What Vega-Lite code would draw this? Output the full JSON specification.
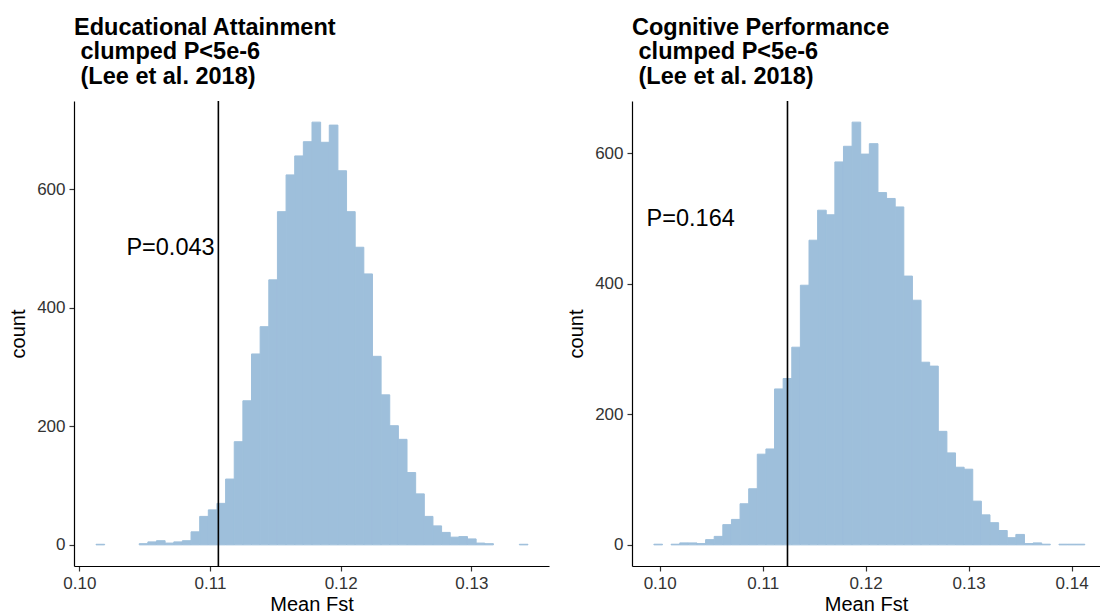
{
 "$schema": "https://vega.github.io/schema/vega-lite/v6.json",
 "background": "white",
 "padding": {"left": 8, "top": 15, "right": 0, "bottom": 0},
 "spacing": 17,
 "config": {
  "font": "Liberation Sans",
  "view": {"stroke": null},
  "axis": {"grid": false, "domainColor": "black", "domainWidth": 1.2, "tickColor": "#333333", "tickWidth": 1.2, "tickSize": 5, "labelFontSize": 17, "labelColor": "#333333", "labelFont": "Liberation Sans", "titleFont": "Liberation Sans", "titleFontSize": 20, "titleFontWeight": "normal", "titleColor": "black", "labelPadding": 4},
  "axisX": {"titlePadding": 3},
  "axisY": {"titlePadding": 8},
  "title": {"font": "Liberation Sans", "fontSize": 23.5, "fontWeight": "bold", "lineHeight": 24.5, "anchor": "start", "frame": "group", "color": "black", "offset": 12}
 },
 "datasets": {
  "ea": [
   {"bin_start": 0.101278, "bin_end": 0.101939, "count": 1},
   {"bin_start": 0.104583, "bin_end": 0.105244, "count": 2},
   {"bin_start": 0.105244, "bin_end": 0.105905, "count": 5},
   {"bin_start": 0.105905, "bin_end": 0.106566, "count": 7},
   {"bin_start": 0.106566, "bin_end": 0.107227, "count": 3},
   {"bin_start": 0.107227, "bin_end": 0.107888, "count": 5},
   {"bin_start": 0.107888, "bin_end": 0.108549, "count": 7},
   {"bin_start": 0.108549, "bin_end": 0.109210, "count": 22},
   {"bin_start": 0.109210, "bin_end": 0.109871, "count": 48},
   {"bin_start": 0.109871, "bin_end": 0.110532, "count": 59},
   {"bin_start": 0.110532, "bin_end": 0.111193, "count": 70},
   {"bin_start": 0.111193, "bin_end": 0.111854, "count": 111},
   {"bin_start": 0.111854, "bin_end": 0.112515, "count": 174},
   {"bin_start": 0.112515, "bin_end": 0.113176, "count": 243},
   {"bin_start": 0.113176, "bin_end": 0.113837, "count": 322},
   {"bin_start": 0.113837, "bin_end": 0.114498, "count": 368},
   {"bin_start": 0.114498, "bin_end": 0.115159, "count": 447},
   {"bin_start": 0.115159, "bin_end": 0.115820, "count": 562},
   {"bin_start": 0.115820, "bin_end": 0.116481, "count": 624},
   {"bin_start": 0.116481, "bin_end": 0.117142, "count": 656},
   {"bin_start": 0.117142, "bin_end": 0.117803, "count": 680},
   {"bin_start": 0.117803, "bin_end": 0.118464, "count": 713},
   {"bin_start": 0.118464, "bin_end": 0.119125, "count": 679},
   {"bin_start": 0.119125, "bin_end": 0.119786, "count": 708},
   {"bin_start": 0.119786, "bin_end": 0.120447, "count": 631},
   {"bin_start": 0.120447, "bin_end": 0.121108, "count": 562},
   {"bin_start": 0.121108, "bin_end": 0.121769, "count": 502},
   {"bin_start": 0.121769, "bin_end": 0.122430, "count": 457},
   {"bin_start": 0.122430, "bin_end": 0.123091, "count": 318},
   {"bin_start": 0.123091, "bin_end": 0.123752, "count": 253},
   {"bin_start": 0.123752, "bin_end": 0.124413, "count": 201},
   {"bin_start": 0.124413, "bin_end": 0.125074, "count": 178},
   {"bin_start": 0.125074, "bin_end": 0.125735, "count": 122},
   {"bin_start": 0.125735, "bin_end": 0.126396, "count": 86},
   {"bin_start": 0.126396, "bin_end": 0.127057, "count": 48},
   {"bin_start": 0.127057, "bin_end": 0.127718, "count": 32},
   {"bin_start": 0.127718, "bin_end": 0.128379, "count": 21},
   {"bin_start": 0.128379, "bin_end": 0.129040, "count": 13},
   {"bin_start": 0.129040, "bin_end": 0.129701, "count": 14},
   {"bin_start": 0.129701, "bin_end": 0.130362, "count": 10},
   {"bin_start": 0.130362, "bin_end": 0.131023, "count": 3},
   {"bin_start": 0.131023, "bin_end": 0.131684, "count": 2},
   {"bin_start": 0.133667, "bin_end": 0.134328, "count": 1}
  ],
  "cp": [
   {"bin_start": 0.099434, "bin_end": 0.100271, "count": 1},
   {"bin_start": 0.101108, "bin_end": 0.101945, "count": 1},
   {"bin_start": 0.101945, "bin_end": 0.102782, "count": 3},
   {"bin_start": 0.102782, "bin_end": 0.103619, "count": 3},
   {"bin_start": 0.103619, "bin_end": 0.104456, "count": 2},
   {"bin_start": 0.104456, "bin_end": 0.105293, "count": 8},
   {"bin_start": 0.105293, "bin_end": 0.106130, "count": 13},
   {"bin_start": 0.106130, "bin_end": 0.106967, "count": 31},
   {"bin_start": 0.106967, "bin_end": 0.107804, "count": 39},
   {"bin_start": 0.107804, "bin_end": 0.108641, "count": 63},
   {"bin_start": 0.108641, "bin_end": 0.109478, "count": 86},
   {"bin_start": 0.109478, "bin_end": 0.110315, "count": 139},
   {"bin_start": 0.110315, "bin_end": 0.111152, "count": 147},
   {"bin_start": 0.111152, "bin_end": 0.111989, "count": 239},
   {"bin_start": 0.111989, "bin_end": 0.112826, "count": 255},
   {"bin_start": 0.112826, "bin_end": 0.113663, "count": 303},
   {"bin_start": 0.113663, "bin_end": 0.114500, "count": 398},
   {"bin_start": 0.114500, "bin_end": 0.115337, "count": 467},
   {"bin_start": 0.115337, "bin_end": 0.116174, "count": 513},
   {"bin_start": 0.116174, "bin_end": 0.117011, "count": 506},
   {"bin_start": 0.117011, "bin_end": 0.117848, "count": 587},
   {"bin_start": 0.117848, "bin_end": 0.118685, "count": 611},
   {"bin_start": 0.118685, "bin_end": 0.119522, "count": 648},
   {"bin_start": 0.119522, "bin_end": 0.120359, "count": 599},
   {"bin_start": 0.120359, "bin_end": 0.121196, "count": 615},
   {"bin_start": 0.121196, "bin_end": 0.122033, "count": 540},
   {"bin_start": 0.122033, "bin_end": 0.122870, "count": 531},
   {"bin_start": 0.122870, "bin_end": 0.123707, "count": 518},
   {"bin_start": 0.123707, "bin_end": 0.124544, "count": 412},
   {"bin_start": 0.124544, "bin_end": 0.125381, "count": 375},
   {"bin_start": 0.125381, "bin_end": 0.126218, "count": 280},
   {"bin_start": 0.126218, "bin_end": 0.127055, "count": 274},
   {"bin_start": 0.127055, "bin_end": 0.127892, "count": 174},
   {"bin_start": 0.127892, "bin_end": 0.128729, "count": 141},
   {"bin_start": 0.128729, "bin_end": 0.129566, "count": 119},
   {"bin_start": 0.129566, "bin_end": 0.130403, "count": 116},
   {"bin_start": 0.130403, "bin_end": 0.131240, "count": 67},
   {"bin_start": 0.131240, "bin_end": 0.132077, "count": 46},
   {"bin_start": 0.132077, "bin_end": 0.132914, "count": 34},
   {"bin_start": 0.132914, "bin_end": 0.133751, "count": 22},
   {"bin_start": 0.133751, "bin_end": 0.134588, "count": 11},
   {"bin_start": 0.134588, "bin_end": 0.135425, "count": 16},
   {"bin_start": 0.135425, "bin_end": 0.136262, "count": 2},
   {"bin_start": 0.136262, "bin_end": 0.137099, "count": 3},
   {"bin_start": 0.137099, "bin_end": 0.137936, "count": 1},
   {"bin_start": 0.138773, "bin_end": 0.139610, "count": 1},
   {"bin_start": 0.139610, "bin_end": 0.140447, "count": 1},
   {"bin_start": 0.140447, "bin_end": 0.141284, "count": 1}
  ],
  "ea_obs": [{"x": 0.11064, "tx": 0.106978, "ty": 500, "label": "P=0.043"}],
  "cp_obs": [{"x": 0.11241, "tx": 0.103013, "ty": 500, "label": "P=0.164"}]
 },
 "hconcat": [
  {
   "width": 475,
   "height": 465,
   "title": {"text": ["Educational Attainment", "\u200b\u00a0clumped P<5e-6", "\u200b\u00a0(Lee et al. 2018)"]},
   "layer": [
    {
     "data": {"name": "ea"},
     "mark": {"type": "bar", "color": "#9ebfdb", "stroke": "#9ebfdb", "strokeWidth": 1},
     "encoding": {
      "x": {"field": "bin_start", "type": "quantitative", "scale": {"domain": [0.099594, 0.135937], "nice": false, "zero": false}, "axis": {"values": [0.10, 0.11, 0.12, 0.13], "format": ".2f", "title": "Mean Fst"}},
      "x2": {"field": "bin_end"},
      "y": {"field": "count", "type": "quantitative", "scale": {"domain": [-35.65, 748.65], "nice": false, "zero": false}, "axis": {"values": [0, 200, 400, 600], "title": "count"}},
      "y2": {"datum": 0}
     }
    },
    {
     "data": {"name": "ea_obs"},
     "mark": {"type": "rule", "color": "black", "strokeWidth": 1.6},
     "encoding": {"x": {"field": "x", "type": "quantitative"}}
    },
    {
     "data": {"name": "ea_obs"},
     "mark": {"type": "text", "fontSize": 23.5, "align": "center", "baseline": "middle", "color": "black"},
     "encoding": {
      "x": {"field": "tx", "type": "quantitative"},
      "y": {"field": "ty", "type": "quantitative"},
      "text": {"field": "label"}
     }
    }
   ]
  },
  {
   "width": 468,
   "height": 465,
   "title": {"text": ["Cognitive Performance", "\u200b\u00a0clumped P<5e-6", "\u200b\u00a0(Lee et al. 2018)"]},
   "layer": [
    {
     "data": {"name": "cp"},
     "mark": {"type": "bar", "color": "#9ebfdb", "stroke": "#9ebfdb", "strokeWidth": 1},
     "encoding": {
      "x": {"field": "bin_start", "type": "quantitative", "scale": {"domain": [0.09731, 0.14276], "nice": false, "zero": false}, "axis": {"values": [0.10, 0.11, 0.12, 0.13, 0.14], "format": ".2f", "title": "Mean Fst"}},
      "x2": {"field": "bin_end"},
      "y": {"field": "count", "type": "quantitative", "scale": {"domain": [-32.4, 680.4], "nice": false, "zero": false}, "axis": {"values": [0, 200, 400, 600], "title": "count"}},
      "y2": {"datum": 0}
     }
    },
    {
     "data": {"name": "cp_obs"},
     "mark": {"type": "rule", "color": "black", "strokeWidth": 1.6},
     "encoding": {"x": {"field": "x", "type": "quantitative"}}
    },
    {
     "data": {"name": "cp_obs"},
     "mark": {"type": "text", "fontSize": 23.5, "align": "center", "baseline": "middle", "color": "black"},
     "encoding": {
      "x": {"field": "tx", "type": "quantitative"},
      "y": {"field": "ty", "type": "quantitative"},
      "text": {"field": "label"}
     }
    }
   ]
  }
 ]
}
